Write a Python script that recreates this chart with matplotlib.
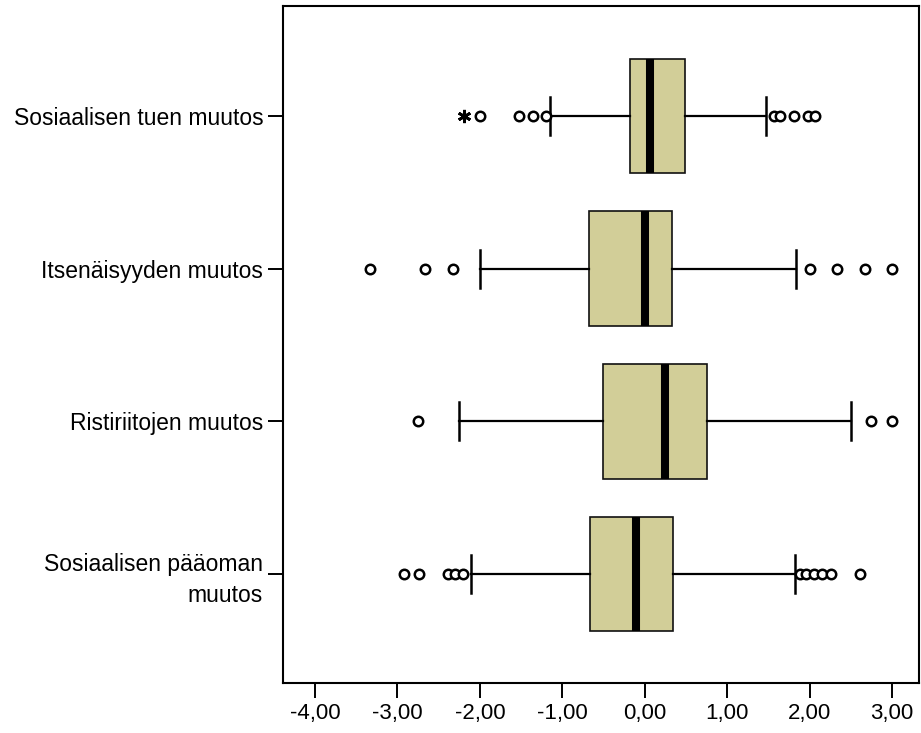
import matplotlib
matplotlib.use("Agg")
import matplotlib.pyplot as plt
from matplotlib.ticker import FuncFormatter, FixedLocator

plt.rcParams['font.family'] = ['Liberation Sans', 'DejaVu Sans']

# Variables, top to bottom
labels = ["Sosiaalisen tuen muutos", "Itsenäisyyden muutos",
          "Ristiriitojen muutos", "Sosiaalisen pääoman\nmuutos"]

# Five-number summaries per variable
q1 = [-0.18, -0.67, -0.50, -0.66]
medians = [0.07, 0.00, 0.25, -0.11]
q3 = [0.49, 0.33, 0.75, 0.34]
whisker_low = [-1.15, -2.00, -2.25, -2.11]
whisker_high = [1.47, 1.83, 2.50, 1.82]

# Outliers (circles) and extreme values (stars)
outliers = [
    [-2.00, -1.52, -1.35, -1.20, 1.57, 1.64, 1.81, 1.98, 2.07],
    [-3.33, -2.67, -2.33, 2.00, 2.33, 2.67, 3.00],
    [-2.75, 2.75, 3.00],
    [-2.92, -2.74, -2.39, -2.30, -2.20, 1.88, 1.96, 2.05, 2.15, 2.26, 2.61],
]
extremes = [[-2.19], [], [], []]

x_ticks = [-4, -3, -2, -1, 0, 1, 2, 3]

positions = list(range(1, len(labels) + 1))

fig = plt.figure(figsize=(9.21, 7.33), dpi=100)
W, H = 921, 733
left, right, top, bottom = 283, 919, 5.7, 683
ax = fig.add_axes([left / W, 1 - bottom / H, (right - left) / W, (bottom - top) / H])

stats = []
for i in range(len(labels)):
    stats.append(dict(q1=q1[i], med=medians[i], q3=q3[i],
                      whislo=whisker_low[i], whishi=whisker_high[i],
                      fliers=outliers[i]))

ax.bxp(stats, positions=positions, vert=False, widths=0.75, capwidths=0.25,
       patch_artist=True, showfliers=True,
       boxprops=dict(facecolor="#D2CE98", edgecolor="#111111", linewidth=1.2),
       medianprops=dict(color="black", linewidth=5.8, solid_capstyle="butt"),
       whiskerprops=dict(color="black", linewidth=1.6),
       capprops=dict(color="black", linewidth=1.8),
       flierprops=dict(marker="o", markerfacecolor="white", markeredgecolor="black",
                       markersize=6.8, markeredgewidth=1.8, linestyle="none"))

for pos, ext in zip(positions, extremes):
    if ext:
        ax.plot(ext, [pos] * len(ext), linestyle="none", marker=(6, 2, 0),
                markersize=9.5, color="black", markeredgewidth=2.0)

ax.set_xlim(-4.388, 3.328)
ax.set_ylim(4.714, 0.278)

ax.xaxis.set_major_locator(FixedLocator(x_ticks))
ax.xaxis.set_major_formatter(FuncFormatter(lambda v, p: f"{v:.2f}".replace(".", ",")))
ax.set_yticks(positions)
ax.set_yticklabels(labels, fontsize=16.5, ha="right")
for lab in ax.get_yticklabels():
    lab.set_multialignment("right")
    lab.set_linespacing(1.4)

ax.tick_params(axis="both", direction="out", length=10.8, width=1.4, pad=3.5,
               colors="black")
ax.tick_params(axis="x", labelsize=16)

for sp in ax.spines.values():
    sp.set_linewidth(1.5)
    sp.set_color("black")

fig.savefig("out.png", dpi=100)
